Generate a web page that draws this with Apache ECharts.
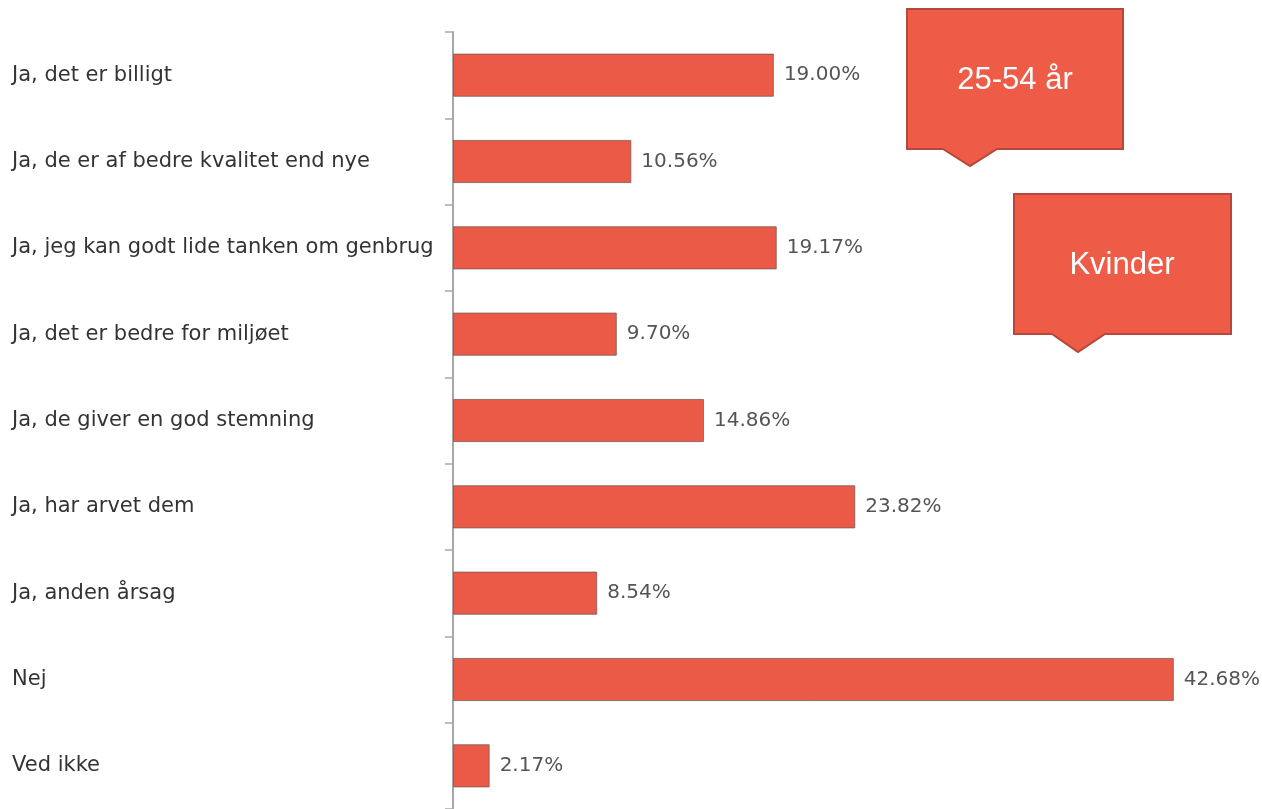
<!DOCTYPE html>
<html>
<head>
<meta charset="utf-8">
<script src="https://cdn.jsdelivr.net/npm/echarts@6/dist/echarts.min.js"></script>
<style>
html,body{margin:0;padding:0;background:#fff;}
#chart{width:1262px;height:809px;}
</style>
</head>
<body>
<div id="chart"></div>
<script>
const categories = [
  "Ja, det er billigt",
  "Ja, de er af bedre kvalitet end nye",
  "Ja, jeg kan godt lide tanken om genbrug",
  "Ja, det er bedre for miljøet",
  "Ja, de giver en god stemning",
  "Ja, har arvet dem",
  "Ja, anden årsag",
  "Nej",
  "Ved ikke"
];
const values = [19.00, 10.56, 19.17, 9.70, 14.86, 23.82, 8.54, 42.68, 2.17];
const callout1 = "25-54 år";
const callout2 = "Kvinder";

const chart = echarts.init(document.getElementById('chart'), null, {renderer:'canvas'});

function calloutShape(x1, y1, x2, y2, p1, apexX, apexY, p2) {
  return [[x1,y1],[x2,y1],[x2,y2],[p2,y2],[apexX,apexY],[p1,y2],[x1,y2]];
}

const fill = '#EE5C48';
const stroke = '#B5483A';

chart.setOption({
  animation: false,
  backgroundColor: '#fff',
  grid: { left: 453, top: 32, width: 760, height: 777, containLabel: false },
  xAxis: {
    type: 'value', min: 0, max: 45,
    show: false
  },
  yAxis: {
    type: 'category',
    data: categories,
    inverse: true,
    axisLine: { show: true, lineStyle: { color: '#A8A8A8', width: 2 } },
    axisTick: { show: true, inside: false, length: 8, lineStyle: { color: '#A8A8A8', width: 1.5 } },
    axisLabel: {
      align: 'left', margin: 441,
      color: '#333', fontFamily: 'DejaVu Sans', fontSize: 21
    },
    splitLine: { show: false }
  },
  series: [{
    type: 'bar',
    data: values,
    barWidth: '50%',
    itemStyle: { color: '#EB5A46', borderColor: 'rgba(110,90,85,0.75)', borderWidth: 1 },
    label: {
      show: true, position: 'right', distance: 10,
      color: '#555', fontFamily: 'DejaVu Sans', fontSize: 20,
      formatter: p => p.value.toFixed(2) + '%'
    }
  }],
  graphic: [
    {
      type: 'polygon',
      shape: { points: calloutShape(907, 9, 1123, 149, 943, 970, 166, 997) },
      style: { fill: fill, stroke: stroke, lineWidth: 2 }
    },
    {
      type: 'text', x: 1015, y: 80,
      style: { text: callout1, fill: '#fff', font: '31px "Liberation Sans", Arial, sans-serif', textAlign: 'center', textVerticalAlign: 'middle' }
    },
    {
      type: 'polygon',
      shape: { points: calloutShape(1014, 194, 1231, 334, 1052, 1078, 352, 1105) },
      style: { fill: fill, stroke: stroke, lineWidth: 2 }
    },
    {
      type: 'text', x: 1122, y: 265,
      style: { text: callout2, fill: '#fff', font: '31px "Liberation Sans", Arial, sans-serif', textAlign: 'center', textVerticalAlign: 'middle' }
    }
  ]
});
</script>
</body>
</html>
